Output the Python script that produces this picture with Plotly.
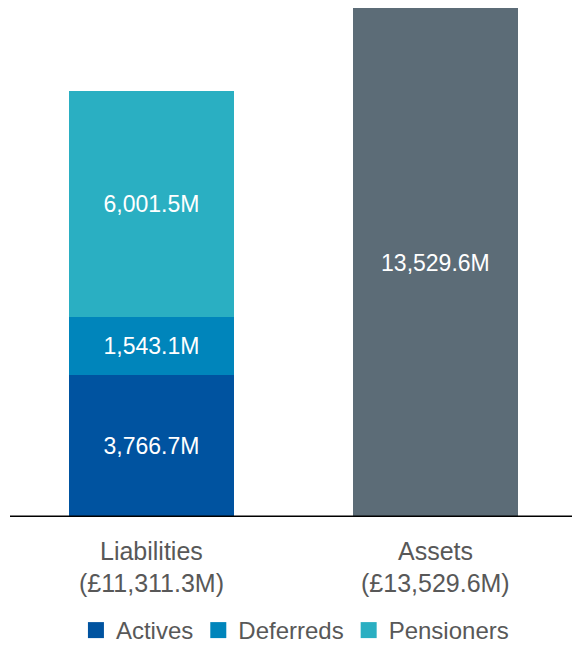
import plotly.graph_objects as go

categories = ["Liabilities", "Assets"]
series_names = ["Actives", "Deferreds", "Pensioners"]
liab_values = [3766.7, 1543.1, 6001.5]
assets_value = 13529.6
series_colors = ["#0053A0", "#0085BB", "#2AAFC2"]
assets_color = "#5C6C77"

FONT = "Liberation Sans, Arial, sans-serif"
TXT = "#585858"

fig = go.Figure()
for name, val, col in zip(series_names, liab_values, series_colors):
    fig.add_trace(go.Bar(
        x=[categories[0]], y=[val], name=name, showlegend=False,
        marker=dict(color=col, line=dict(width=0)),
        width=0.58, text=[f"{val:,.1f}M"], textposition="inside", insidetextanchor="middle",
        textfont=dict(color="white", size=23, family=FONT), textangle=0,
        hoverinfo="skip",
    ))
fig.add_trace(go.Bar(
    x=[categories[1]], y=[assets_value], name="Assets", showlegend=False,
    marker=dict(color=assets_color, line=dict(width=0)), width=0.58,
    text=[f"{assets_value:,.1f}M"], textposition="inside", insidetextanchor="middle",
    textfont=dict(color="white", size=23, family=FONT), textangle=0, hoverinfo="skip",
))

# legend entries (square swatches)
for name, col in zip(series_names, series_colors):
    fig.add_trace(go.Scatter(
        x=[None], y=[None], mode="markers", name=name,
        marker=dict(symbol="square", size=16, color=col), hoverinfo="skip",
    ))

totals = [sum(liab_values), assets_value]
for cat, tot in zip(categories, totals):
    fig.add_annotation(x=cat, xref="x", y=0, yref="paper", yshift=-34, yanchor="middle",
                       text=cat, showarrow=False,
                       font=dict(size=25, color=TXT, family=FONT))
    fig.add_annotation(x=cat, xref="x", y=0, yref="paper", yshift=-66, yanchor="middle",
                       text=f"(£{tot:,.1f}M)", showarrow=False,
                       font=dict(size=25, color=TXT, family=FONT))

fig.add_shape(type="line", xref="paper", yref="y", x0=0, x1=1, y0=0, y1=0,
              line=dict(color="black", width=3))

fig.update_layout(
    barmode="stack",
    width=572, height=653,
    margin=dict(l=10, r=0, t=8, b=136, autoexpand=False),
    paper_bgcolor="white", plot_bgcolor="white",
    font=dict(family=FONT, size=22, color=TXT),
    xaxis=dict(range=[-0.498, 1.481], showticklabels=False, showgrid=False,
               zeroline=False, showline=False, ticks="", fixedrange=True),
    yaxis=dict(range=[0, assets_value], showticklabels=False, showgrid=False,
               zeroline=False, showline=False, ticks="", fixedrange=True),
    legend=dict(orientation="h", x=0.507, xanchor="center", y=-0.2672, yanchor="bottom",
                yref="paper", font=dict(size=24, color=TXT, family=FONT),
                traceorder="normal", itemwidth=30),
    uniformtext=dict(minsize=22, mode="show"),
)

fig.write_html(
    "out.html",
    config={"displayModeBar": False, "staticPlot": True},
    post_script="document.body.style.margin='0';document.body.style.overflow='hidden';",
)
